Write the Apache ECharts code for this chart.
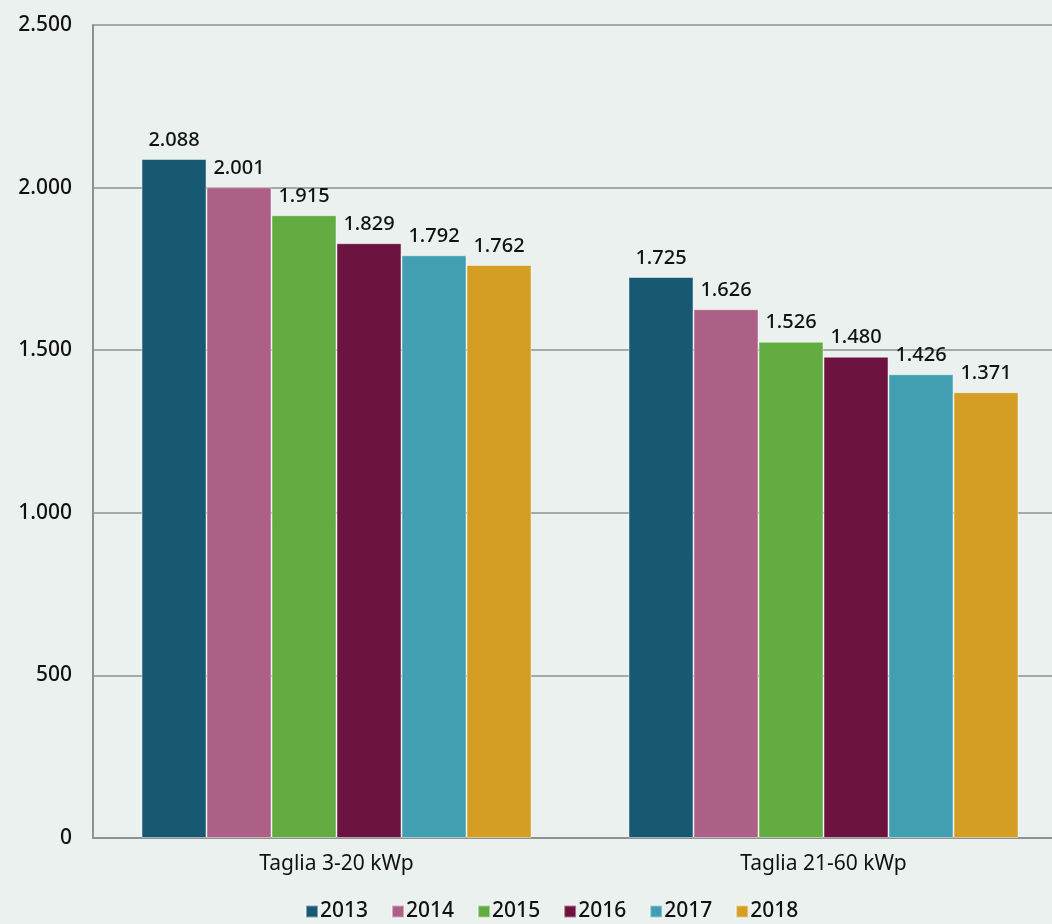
<!DOCTYPE html>
<html>
<head>
<meta charset="utf-8">
<script src="https://cdn.jsdelivr.net/npm/echarts@6/dist/echarts.min.js"></script>
<style>
  html, body { margin: 0; padding: 0; background: #ebf1ef; }
  #main { width: 1052px; height: 924px; }
</style>
</head>
<body>
<div id="main"></div>
<script>
// dati
const categories = ['Taglia 3-20 kWp', 'Taglia 21-60 kWp'];
const years = ['2013', '2014', '2015', '2016', '2017', '2018'];
const values2013 = [2088, 1725];
const values2014 = [2001, 1626];
const values2015 = [1915, 1526];
const values2016 = [1829, 1480];
const values2017 = [1792, 1426];
const values2018 = [1762, 1371];
const yTicks = [0, 500, 1000, 1500, 2000, 2500];

const allValues = [values2013, values2014, values2015, values2016, values2017, values2018];
const colors = ['#175872', '#ad6086', '#63ac41', '#6c1340', '#429fb2', '#d49e25'];

// formato italiano: punto come separatore delle migliaia
function fmt(v) {
  return String(v).replace(/\B(?=(\d{3})+(?!\d))/g, '.');
}

const FONT = 'Noto Sans';

let option = {
  backgroundColor: '#ebf1ef',
  color: colors,
  textStyle: { fontFamily: FONT },
  // l'area del grafico prosegue oltre il bordo destro
  grid: { left: 93, right: -15, top: 25, bottom: 86, outerBoundsMode: 'none', containLabel: false },
  legend: {
    data: years,
    left: 305,
    top: 901,
    padding: 0,
    itemWidth: 12,
    itemHeight: 12,
    itemGap: 23,
    icon: 'rect',
    textStyle: { fontSize: 21, fontWeight: 500, color: '#111', fontFamily: FONT, padding: [0, 0, 0, -3] }
  },
  xAxis: {
    type: 'category',
    data: categories,
    axisLine: { lineStyle: { color: '#8e9191', width: 2 } },
    axisTick: { show: false },
    axisLabel: { fontSize: 21, color: '#111', margin: 16, fontFamily: FONT }
  },
  yAxis: {
    type: 'value',
    min: yTicks[0],
    max: yTicks[yTicks.length - 1],
    interval: 500,
    axisLine: { show: true, lineStyle: { color: '#8e9191', width: 2 } },
    axisTick: { show: false },
    splitLine: { lineStyle: { color: '#8e9191', width: 1.5 } },
    axisLabel: { fontSize: 21, fontWeight: 500, color: '#111', margin: 21, fontFamily: FONT, formatter: fmt }
  },
  series: years.map((y, i) => ({
    name: y,
    type: 'bar',
    data: allValues[i],
    barGap: '0%',
    barWidth: 65,
    itemStyle: { borderColor: 'rgba(255,255,255,0.45)', borderWidth: 1 },
    label: {
      show: true,
      position: 'top',
      distance: 9,
      fontSize: 20,
      fontWeight: 500,
      color: '#111',
      fontFamily: FONT,
      formatter: p => fmt(p.value)
    }
  }))
};

let myChart = echarts.init(document.getElementById('main'));
myChart.setOption(option);
</script>
</body>
</html>
